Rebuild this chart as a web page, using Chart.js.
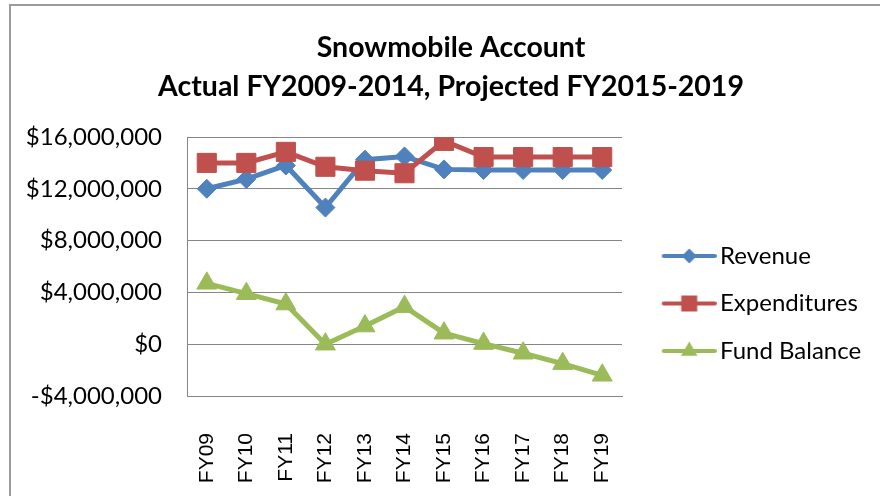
<!DOCTYPE html>
<html><head><meta charset="utf-8">
<script src="https://cdn.jsdelivr.net/npm/chart.js@4/dist/chart.umd.min.js"></script>
<style>
html,body{margin:0;padding:0;overflow:hidden;background:#fff;}
#frame{position:absolute;left:9px;top:4px;width:920px;height:540px;border-left:2px solid #9b9b9b;border-top:2px solid #9b9b9b;}
#wrap{position:absolute;left:0;top:0;width:880px;height:496px;}
</style></head><body>
<div id="frame"></div>
<div id="wrap"><canvas id="c" width="880" height="496"></canvas></div>
<script>
const categories = ['FY09','FY10','FY11','FY12','FY13','FY14','FY15','FY16','FY17','FY18','FY19'];
const revenue = [12000000, 12750000, 13800000, 10550000, 14250000, 14500000, 13500000, 13450000, 13450000, 13450000, 13450000];
const expenditures = [14000000, 14000000, 14850000, 13700000, 13400000, 13200000, 15700000, 14450000, 14450000, 14450000, 14450000];
const fundBalance = [4700000, 3900000, 3100000, 0, 1400000, 2900000, 850000, 50000, -700000, -1500000, -2400000];
const seriesNames = ['Revenue', 'Expenditures', 'Fund Balance'];
const titleLines = ['Snowmobile Account', 'Actual FY2009-2014, Projected FY2015-2019'];
const yMin = -4000000, yMax = 16000000, yStep = 4000000;

const BLUE = '#4F81BD', RED = '#C0504D', GREEN = '#9BBB59', GRID = '#868686';
const LFONT = "Lato, 'Open Sans', sans-serif";
const PAD_L = 22, PAD_R = 0, LEGEND_W = 258;

function fmt(v){ return (v < 0 ? '-' : '') + '$' + Math.abs(v).toLocaleString('en-US'); }

function legendIcon(color, style){
  const W = 80, H = 26;
  const cv = document.createElement('canvas'); cv.width = W; cv.height = H;
  const g = cv.getContext('2d');
  const y = H/2, x0 = W-55, x1 = W;
  g.strokeStyle = color; g.lineWidth = 4; g.lineCap = 'round';
  g.beginPath(); g.moveTo(x0+2, y); g.lineTo(x1-2, y); g.stroke();
  const cx = (x0+x1)/2; g.fillStyle = color; g.beginPath();
  if (style === 'diamond'){ const r = 7.5; g.moveTo(cx, y-r); g.lineTo(cx+r, y); g.lineTo(cx, y+r); g.lineTo(cx-r, y); }
  else if (style === 'square'){ const s = 8; g.rect(cx-s, y-s, 2*s, 2*s); }
  else { const r = 9.5; g.moveTo(cx, y-r); g.lineTo(cx+r*0.866, y+r/2); g.lineTo(cx-r*0.866, y+r/2); }
  g.closePath(); g.fill();
  return cv;
}
const icons = [legendIcon(BLUE,'diamond'), legendIcon(RED,'square'), legendIcon(GREEN,'triangle')];

const legendWidthPlugin = {
  id: 'legendWidth',
  beforeLayout(chart){
    const lg = chart.legend;
    if (lg && !lg._fixedW){
      const f = lg.fit;
      lg.fit = function(){ f.call(this); this.width = LEGEND_W; };
      lg._fixedW = true;
    }
  }
};

new Chart(document.getElementById('c'), {
  type: 'line',
  plugins: [legendWidthPlugin],
  data: {
    labels: categories,
    datasets: [
      {label: seriesNames[0], data: revenue, borderColor: BLUE, backgroundColor: BLUE, pointBackgroundColor: BLUE, pointBorderColor: BLUE,
       pointStyle: 'rectRot', pointRadius: 9.5, pointHoverRadius: 9.5, pointBorderWidth: 1, borderWidth: 5, order: 3},
      {label: seriesNames[1], data: expenditures, borderColor: RED, backgroundColor: RED, pointBackgroundColor: RED, pointBorderColor: RED,
       pointStyle: 'rect', pointRadius: 13.5, pointHoverRadius: 13.5, pointBorderWidth: 1, borderWidth: 5, order: 2},
      {label: seriesNames[2], data: fundBalance, borderColor: GREEN, backgroundColor: GREEN, pointBackgroundColor: GREEN, pointBorderColor: GREEN,
       pointStyle: 'triangle', pointRadius: 11.5, pointHoverRadius: 11.5, pointBorderWidth: 1, borderWidth: 5, order: 1}
    ]
  },
  options: {
    responsive: false, animation: false, devicePixelRatio: 1,
    layout: {padding: {left: PAD_L, right: PAD_R, top: 0, bottom: 0}},
    elements: {line: {tension: 0}},
    plugins: {
      title: {display: true, text: titleLines, color: '#000',
        font: {family: LFONT, weight: 'bold', size: 28.5, lineHeight: '39px'}, padding: {top: 28, bottom: 31}},
      legend: {position: 'right', align: 'center', fullSize: false,
        title: {display: true, text: ' ', font: {size: 10, lineHeight: 1}, padding: {top: 64, bottom: 0}},
        labels: {usePointStyle: true, pointStyleWidth: 62.5, padding: 23.5, color: '#000', font: {family: LFONT, size: 24},
          generateLabels: (chart) => chart.data.datasets.map((d, i) => ({
            text: d.label, pointStyle: icons[i], fillStyle: d.borderColor, strokeStyle: d.borderColor,
            lineWidth: 0, hidden: false, datasetIndex: i, fontColor: '#000'}))}},
      tooltip: {enabled: false}
    },
    scales: {
      x: {offset: true, grid: {display: false, drawTicks: false}, border: {display: true, color: GRID, width: 1},
        ticks: {color: '#000', font: {family: "'Liberation Sans', Arial, sans-serif", size: 21}, minRotation: 90, maxRotation: 90, padding: 37, autoSkip: false},
        afterFit: (s) => { s.height = 100; }},
      y: {min: yMin, max: yMax,
        ticks: {stepSize: yStep, callback: fmt, color: '#000', font: {family: LFONT, size: 24}, padding: 25},
        grid: {color: GRID, lineWidth: 1, drawTicks: false}, border: {display: true, color: GRID, width: 1},
        afterFit: (s) => { s.width = 187 - PAD_L; }}
    }
  }
});
</script>
</body></html>
